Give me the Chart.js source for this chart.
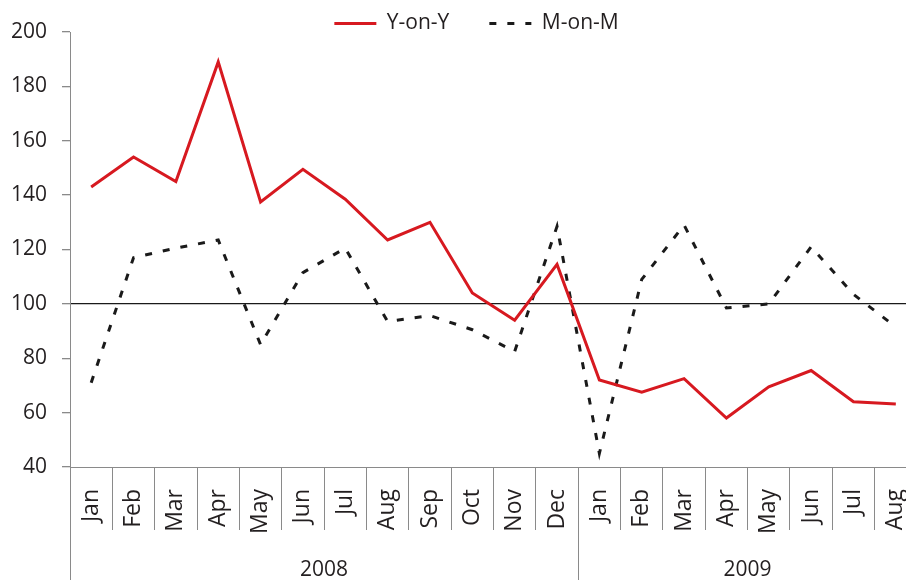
<!DOCTYPE html>
<html>
<head>
<meta charset="utf-8">
<script src="https://cdn.jsdelivr.net/npm/chart.js@4/dist/chart.umd.min.js"></script>
<style>
  html, body { margin: 0; padding: 0; background: #fff; overflow: hidden; }
  #grafico { display: block; }
</style>
</head>
<body>
<canvas id="grafico" width="918" height="580"></canvas>
<script>
// Dados do gráfico
const meses = ['Jan', 'Feb', 'Mar', 'Apr', 'May', 'Jun', 'Jul', 'Aug', 'Sep', 'Oct', 'Nov', 'Dec',
               'Jan', 'Feb', 'Mar', 'Apr', 'May', 'Jun', 'Jul', 'Aug'];
const anos = ['2008', '2009'];
const mesesPorAno = [12, 8];
const yOnY = [143, 154, 145, 189, 137.5, 149.5, 138.5, 123.5, 130, 104, 94, 114.5,
              72, 67.5, 72.5, 58, 69.5, 75.5, 64, 63.2];
const mOnM = [71, 117, 120.5, 123.5, 85, 111.5, 120.5, 93.5, 95.7, 90.5, 82.5, 128.5,
              45, 109, 129, 98.5, 100, 121, 103.5, 91.5];
const linhaBase = 100;

const corTexto = '#231f20';
const corEixo = '#8a8a8a';
const fonte = 'Open Sans';

// Plugin: linhas de separação longas e rótulos dos anos
const eixoAnos = {
    id: 'eixoAnos',
    afterDraw(chart) {
        const ctx = chart.ctx;
        const x = chart.scales.x;
        const area = chart.chartArea;
        const fundo = chart.height;
        ctx.save();
        ctx.strokeStyle = corEixo;
        ctx.lineWidth = 1;
        ctx.beginPath();
        ctx.moveTo(area.left + 0.5, area.bottom);
        ctx.lineTo(area.left + 0.5, fundo);
        let inicio = 0;
        mesesPorAno.forEach((n, i) => {
            const fim = inicio + n - 1;
            if (i < mesesPorAno.length - 1) {
                const sep = Math.round((x.getPixelForValue(fim) + x.getPixelForValue(fim + 1)) / 2) + 0.5;
                ctx.moveTo(sep, area.bottom);
                ctx.lineTo(sep, fundo);
            }
            inicio += n;
        });
        ctx.stroke();

        ctx.fillStyle = corTexto;
        ctx.font = '21px "' + fonte + '"';
        ctx.textAlign = 'center';
        ctx.textBaseline = 'middle';
        inicio = 0;
        mesesPorAno.forEach((n, i) => {
            const fim = inicio + n - 1;
            const centro = (x.getPixelForValue(inicio) + x.getPixelForValue(fim)) / 2;
            ctx.fillText(anos[i], centro, 570);
            inicio += n;
        });
        ctx.restore();
    }
};

// Ajusta a altura e a posição da legenda
const ajusteLegenda = {
    id: 'ajusteLegenda',
    beforeInit(chart) {
        const fitOriginal = chart.legend.fit;
        chart.legend.fit = function () {
            fitOriginal.call(this);
            this.height = 59;
        };
        const drawOriginal = chart.legend.draw;
        chart.legend.draw = function () {
            this.ctx.save();
            this.ctx.translate(18, 0);
            drawOriginal.call(this);
            this.ctx.restore();
        };
    }
};

const ctx = document.getElementById('grafico').getContext('2d');
const grafico = new Chart(ctx, {
    type: 'line',
    data: {
        labels: meses,
        datasets: [
            {
                label: 'Y-on-Y',
                data: yOnY,
                borderColor: '#d71920',
                backgroundColor: '#d71920',
                borderWidth: 3,
                pointRadius: 0,
                tension: 0,
                fill: false
            },
            {
                label: 'M-on-M',
                data: mOnM,
                borderColor: '#1a1a1a',
                backgroundColor: '#1a1a1a',
                borderWidth: 3,
                borderDash: [7, 11],
                pointRadius: 0,
                tension: 0,
                fill: false
            }
        ]
    },
    options: {
        responsive: false,
        animation: false,
        layout: { padding: { top: -27, left: 0, right: 1, bottom: 0 } },
        plugins: {
            legend: {
                position: 'top',
                labels: {
                    usePointStyle: true,
                    pointStyle: 'line',
                    pointStyleWidth: 42,
                    padding: 40,
                    color: corTexto,
                    font: { family: fonte, size: 21 },
                    generateLabels(chart) {
                        const itens = Chart.defaults.plugins.legend.labels.generateLabels(chart);
                        itens.forEach(item => {
                            const ds = chart.data.datasets[item.datasetIndex];
                            item.lineDash = ds.borderDash || [];
                            item.lineWidth = ds.borderWidth;
                            item.strokeStyle = ds.borderColor;
                        });
                        return itens;
                    }
                }
            },
            tooltip: { enabled: false }
        },
        scales: {
            x: {
                type: 'category',
                offset: true,
                afterFit(scale) { scale.height = 113; },
                border: { color: corEixo, width: 1 },
                grid: {
                    offset: true,
                    drawOnChartArea: false,
                    tickLength: 63,
                    color: corEixo,
                    lineWidth: 1
                },
                ticks: {
                    autoSkip: false,
                    minRotation: 90,
                    maxRotation: 90,
                    padding: -41,
                    color: corTexto,
                    font: { family: fonte, size: 23 }
                }
            },
            y: {
                min: 40,
                max: 200,
                afterFit(scale) { scale.width = 70; },
                border: { color: corEixo, width: 1 },
                grid: {
                    color: c => c.tick && c.tick.value === linhaBase ? '#1a1a1a' : 'rgba(0,0,0,0)',
                    lineWidth: 1.3,
                    tickColor: corEixo,
                    tickLength: 8
                },
                ticks: {
                    stepSize: 20,
                    padding: 15,
                    color: corTexto,
                    font: { family: fonte, size: 21 }
                }
            }
        }
    },
    plugins: [eixoAnos, ajusteLegenda]
});
</script>
</body>
</html>
